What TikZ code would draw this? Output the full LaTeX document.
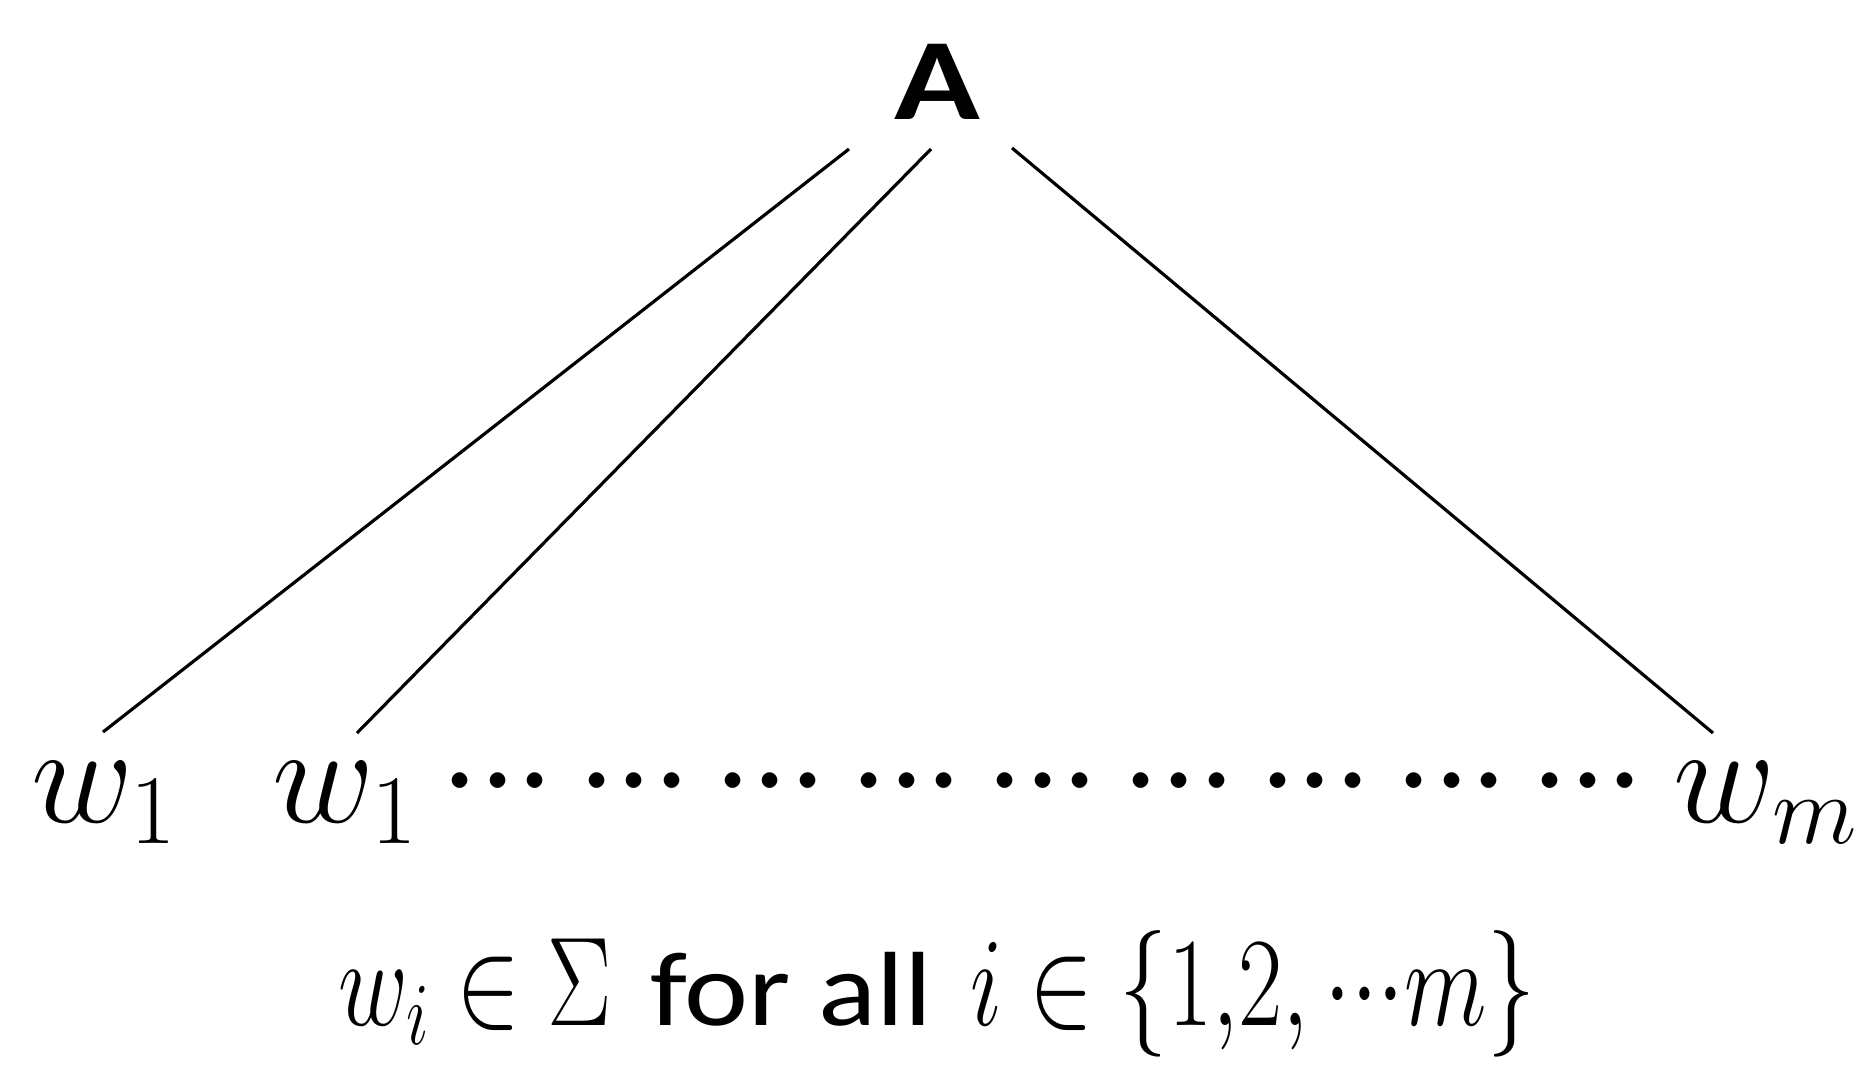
\RequirePackage{fix-cm}
\documentclass[tikz,border=0pt]{standalone}
\usepackage{fontspec}
\usepackage{graphicx}
\usetikzlibrary{positioning}
\newfontfamily\carlito{Carlito}
\newcommand{\mdots}[1]{\makebox[#1]{$\cdot$}\makebox[#1]{$\cdot$}\makebox[#1]{$\cdot$}}
\newcommand{\dotgrp}{\makebox[1.365cm][l]{\mdots{0.375cm}}}

\begin{document}
\begin{tikzpicture}[x=0.01cm, y=-0.01cm]
    \tikzstyle{word} = [inner sep=0pt, anchor=base west, font=\fontsize{40}{48}\selectfont]
    \tikzstyle{branch} = [line width=0.9pt]
    \useasboundingbox (0,0) rectangle (1870,1084);
    \node [inner sep=0pt, anchor=base, font=\carlito\bfseries\fontsize{33}{38}\selectfont] at (937.5,119) (A) {\scalebox{1.22}[1]{A}};
    \node [word] at (31,822) (w1) {$w_1$};
    \node [word] at (272,822) (w2) {$w_1$};
    \node [word] at (1673,822) (wm) {$w_m$};
    \node [word, font=\fontsize{42}{48}\selectfont] at (441,817) (dots)
        {\dotgrp\dotgrp\dotgrp\dotgrp\dotgrp\dotgrp\dotgrp\dotgrp\dotgrp};
    \node [inner sep=0pt, anchor=base, font=\fontsize{36}{42}\selectfont] at (937,1025) (rule)
        {\scalebox{0.76}[1]{$w_i \in \Sigma$} {\carlito\fontsize{30}{36}\selectfont\scalebox{1.15}[1]{for all}}
         \scalebox{0.76}[1]{$i \in \{1{,}2,\,$\mdots{0.35cm}$m\}$}};
    % branches from A down to the words
    \coordinate (A1) at (849,149);
    \coordinate (A2) at (931,149);
    \coordinate (A3) at (1012,148);
    \coordinate (w1top) at (103,732);
    \coordinate (w2top) at (357,733);
    \coordinate (wmtop) at (1713,733);
    \draw[branch] (A1) -- (w1top);
    \draw[branch] (A2) -- (w2top);
    \draw[branch] (A3) -- (wmtop);
\end{tikzpicture}
\end{document}
